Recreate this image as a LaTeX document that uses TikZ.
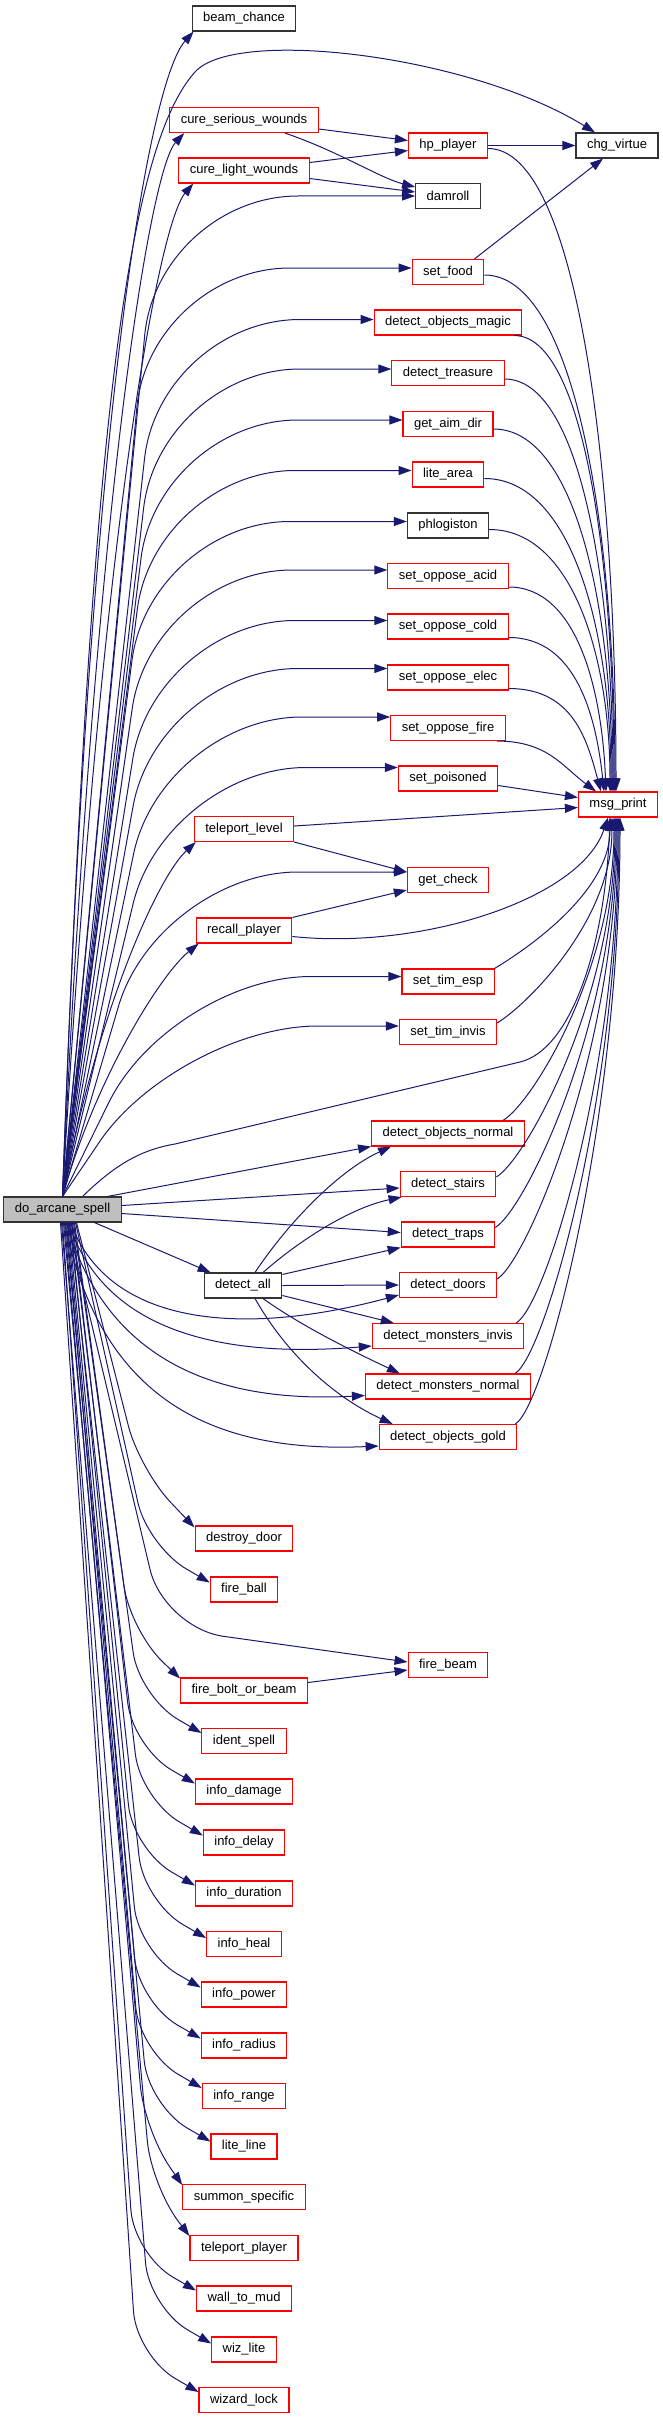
\documentclass[tikz,border=0pt]{standalone}
\usepackage{fontspec}
\setmainfont{Liberation Sans}
\usetikzlibrary{arrows.meta,calc}
\definecolor{edgeblue}{RGB}{25,25,112}
\definecolor{rootgray}{RGB}{191,191,191}

\begin{document}
\begin{tikzpicture}[x=1pt,y=-1pt,
    fn/.style={draw=red, fill=white, line width=1.1pt, font=\fontsize{13}{15}\selectfont,
               inner xsep=11pt, inner ysep=0pt, minimum height=25pt},
    fnplain/.style={fn, draw=black!80},
    root/.style={fn, draw=black!80, fill=rootgray},
    call/.style={draw=edgeblue, line width=1pt, -{Triangle[length=13pt,width=9pt]}}]

    \useasboundingbox (0,0) rectangle (663,2419);

    % the caller
    \node[root] (arcane) at (62.5,1209.5) {do\_arcane\_spell};

    % first column of callees
    \foreach \name/\txt/\y/\sty in {
        bc/beam\_chance/18.5/fnplain, cs/cure\_serious\_wounds/120/fn,
        cl/cure\_light\_wounds/170.5/fn, tl/teleport\_level/829/fn,
        rp/recall\_player/930.5/fn, ddoor/destroy\_door/1538.5/fn,
        fball/fire\_ball/1589.5/fn, fbb/fire\_bolt\_or\_beam/1690.5/fn,
        ident/ident\_spell/1741/fn, idam/info\_damage/1791.5/fn,
        idel/info\_delay/1842.5/fn, idur/info\_duration/1893.5/fn,
        iheal/info\_heal/1944/fn, ipow/info\_power/1994.5/fn,
        irad/info\_radius/2045.5/fn, irng/info\_range/2096/fn,
        lline/lite\_line/2146.5/fn, summ/summon\_specific/2197/fn,
        tport/teleport\_player/2248/fn, wmud/wall\_to\_mud/2298.5/fn,
        wlite/wiz\_lite/2349.5/fn, wlock/wizard\_lock/2400/fn}
    {
        \node[\sty] (\name) at (244,\y) {\txt};
    }
    \node[fnplain] (dall) at (243,1285.5) {detect\_all};

    % second column
    \foreach \name/\txt/\y/\sty in {
        hp/hp\_player/145.5/fn, dam/damroll/196/fnplain,
        food/set\_food/272/fn, dom/detect\_objects\_magic/322.5/fn,
        dtr/detect\_treasure/373/fn, aim/get\_aim\_dir/424/fn,
        larea/lite\_area/474.5/fn, phl/phlogiston/525.5/fnplain,
        acid/set\_oppose\_acid/576/fn, cold/set\_oppose\_cold/626.5/fn,
        elec/set\_oppose\_elec/677.5/fn, fire/set\_oppose\_fire/728/fn,
        pois/set\_poisoned/778.5/fn, gchk/get\_check/880/fn,
        esp/set\_tim\_esp/981.5/fn, invis/set\_tim\_invis/1032/fn,
        don/detect\_objects\_normal/1133.5/fn, dst/detect\_stairs/1184/fn,
        dtp/detect\_traps/1234.5/fn, ddr/detect\_doors/1285/fn,
        dmi/detect\_monsters\_invis/1336/fn, dmn/detect\_monsters\_normal/1386.5/fn,
        dog/detect\_objects\_gold/1437/fn, fbeam/fire\_beam/1665/fn}
    {
        \node[\sty] (\name) at (448,\y) {\txt};
    }

    % third column
    \node[fnplain] (chg) at (617,145.5) {chg\_virtue};
    \node[fn] (msg) at (618,804.5) {msg\_print};

    % do_arcane_spell upwards, first column
    \draw[call] (arcane.north) .. controls (90,400) and (150,80) .. ([xshift=2]bc.south west);
    \draw[call] (arcane.north) .. controls (95,500) and (150,170) .. ([xshift=15]cs.south west);
    \draw[call] (arcane.north) .. controls (100,540) and (158,225) .. ([xshift=15]cl.south west);
    \draw[call] (arcane.north) .. controls (100,1000) and (160,875) .. ([xshift=2]tl.south west);
    \draw[call] (arcane.north) .. controls (95,1080) and (160,975) .. ([xshift=3]rp.south west);
    \draw[call] (arcane.north) .. controls (90,450) and (125,150) .. (195,72)
        .. controls (235,27) and (470,55) .. ([xshift=-22]chg.north);

    % do_arcane_spell upwards, second column
    \foreach \tgt/\kx/\ys in {dam/158/0, food/150/4, dom/160/3, dtr/160/4, aim/158/4,
        larea/155/4, phl/150/4, acid/152/6, cold/155/6, elec/158/9, fire/162/11,
        pois/166/11, gchk/158/8, esp/171/5, invis/178/6}
    {
        \coordinate (end) at ([yshift=\ys]\tgt.west);
        \draw[call, rounded corners=140pt] (arcane.north) -- (\kx,0 |- end) -- (end);
    }
    \draw[call] ([xshift=20]arcane.north) .. controls (115,1165) and (140,1150) .. (175,1144)
        -- (520,1062) .. controls (570,1050) and (605,950) .. ([xshift=-8]msg.south);

    % do_arcane_spell to the detect functions
    \draw[call] ([xshift=45]arcane.north) -- (don.south west);
    \draw[call] ([yshift=4]arcane.east) -- ([yshift=-4]dst.west);
    \draw[call] ([yshift=-4]arcane.east) -- ([yshift=2]dtp.west);
    \draw[call] ([xshift=32]arcane.south) -- ([xshift=7]dall.north west);
    \draw[call] ([xshift=8]arcane.south) .. controls (110,1330) and (250,1335) .. ([yshift=-10]ddr.west);
    \draw[call] ([xshift=6]arcane.south) .. controls (100,1320) and (200,1360) .. ([yshift=-10]dmi.west);
    \draw[call] ([xshift=4]arcane.south) .. controls (100,1340) and (190,1405) .. ([yshift=-9]dmn.west);
    \draw[call] ([xshift=2]arcane.south) .. controls (95,1370) and (180,1455) .. ([yshift=-9]dog.west);

    % do_arcane_spell downwards, first column
    \foreach \tgt/\sx/\ys/\kdx/\kdy in {ddoor/14/11/-55/-58, fball/13/7/-62/-36,
        fbb/12/12/-50/-48, ident/11/8/-62/-36, idam/10/8/-62/-36, idel/9/7/-62/-36,
        idur/8/8/-62/-36, iheal/7/6/-62/-36, ipow/6/7/-62/-36, irad/5/7/-62/-36,
        irng/4/8/-62/-36, lline/3/5/-62/-36, summ/2/12/-38/-55, tport/1/12/-38/-50,
        wmud/0/8/-62/-36, wlite/-1/6/-62/-36, wlock/-2/8/-62/-36}
    {
        \coordinate (end) at ([yshift=\ys]\tgt.west);
        \draw[call, rounded corners=45pt] ([xshift=\sx]arcane.south) -- ($(end)+(\kdx,\kdy)$) -- (end);
    }
    \draw[call, rounded corners=60pt] ([xshift=5]arcane.south) -- (164,1628) -- ([yshift=3]fbeam.west);
    \draw[call] ([yshift=8]fbb.east) -- ([yshift=-5]fbeam.west);

    % detect_all
    \draw[call] ([xshift=12]dall.north) .. controls (290,1220) and (340,1170) .. ([xshift=20]don.south west);
    \draw[call] ([xshift=20]dall.north) .. controls (300,1240) and (350,1208) .. ([xshift=2]dst.south west);
    \draw[call] ([yshift=-2]dall.north east) -- (dtp.south west);
    \draw[call] (dall.east) -- (ddr.west);
    \draw[call] ([yshift=-10]dall.east) -- ([xshift=22]dmi.north west);
    \draw[call] ([xshift=20]dall.south) .. controls (300,1325) and (350,1350) .. ([xshift=35]dmn.north west);
    \draw[call] ([xshift=12]dall.south) .. controls (290,1360) and (340,1400) .. ([xshift=14]dog.north west);

    % top cluster
    \draw[call] ([yshift=-9]cs.east) -- ([yshift=5]hp.west);
    \draw[call] ([yshift=8]cl.east) -- ([yshift=-5]hp.west);
    \draw[call] ([xshift=41]cs.south) .. controls (340,152) and (380,178) .. ([yshift=9]dam.west);
    \draw[call] ([yshift=-8]cl.east) -- ([yshift=4]dam.west);
    \draw[call] (hp.east) -- (chg.west);
    \draw[call] ([xshift=-10]food.north east) -- ([xshift=-14]chg.south);

    % teleport_level and recall_player
    \draw[call] ([yshift=3]tl.east) -- ([yshift=-3]msg.west);
    \draw[call] (tl.south east) -- ([yshift=8]gchk.west);
    \draw[call] (rp.north east) -- ([yshift=-10]gchk.west);
    \draw[call] ([yshift=-6]rp.east) .. controls (420,950) and (580,900) .. ([xshift=-10]msg.south);

    % into msg_print from above
    \foreach \tgt/\ys/\dx/\cx in {hp/-3/-2/0, food/-3/-3/0, dtr/-6/-5/0, aim/-5/-6/0,
        larea/-4/-7/0, phl/-4/-8/0, acid/-11/-12/-4, cold/-11/-14/-8, elec/-11/-17/-14}
    {
        \coordinate (s) at ([yshift=\ys]\tgt.east);
        \coordinate (m) at ([xshift=\dx]msg.north);
        \draw[call] (s) .. controls ($(s)!.7!(s -| m)$) and ($(m)!.5!(m |- s)+(\cx,0)$) .. (m);
    }
    \coordinate (s) at ([xshift=-8]dom.south east);
    \coordinate (m) at ([xshift=-4]msg.north);
    \draw[call] (s) .. controls ($(s)!.7!(s -| m)$) and ($(m)!.5!(m |- s)$) .. (m);
    \draw[call] ([xshift=-9]fire.south east) .. controls (547,741) and (562,766) .. ([xshift=-22]msg.north);
    \draw[call] ([yshift=-7]pois.east) -- ([yshift=7]msg.west);

    % into msg_print from below
    \foreach \tgt/\sx/\sy/\dx in {esp/0/0/-8, invis/0/-4/-6, don/-22/0/-4, dst/0/-6/-3,
        dtp/0/-6/-2, ddr/0/-7/-1, dmi/-8/0/0, dmn/-16/0/1, dog/-2/0/2}
    {
        \coordinate (s) at ([xshift=\sx,yshift=\sy]\tgt.north east);
        \coordinate (m) at ([xshift=\dx]msg.south);
        \draw[call] (s) .. controls ($(s)+(30,-18)$) and ($(m)!.5!(m |- s)$) .. (m);
    }
\end{tikzpicture}
\end{document}
